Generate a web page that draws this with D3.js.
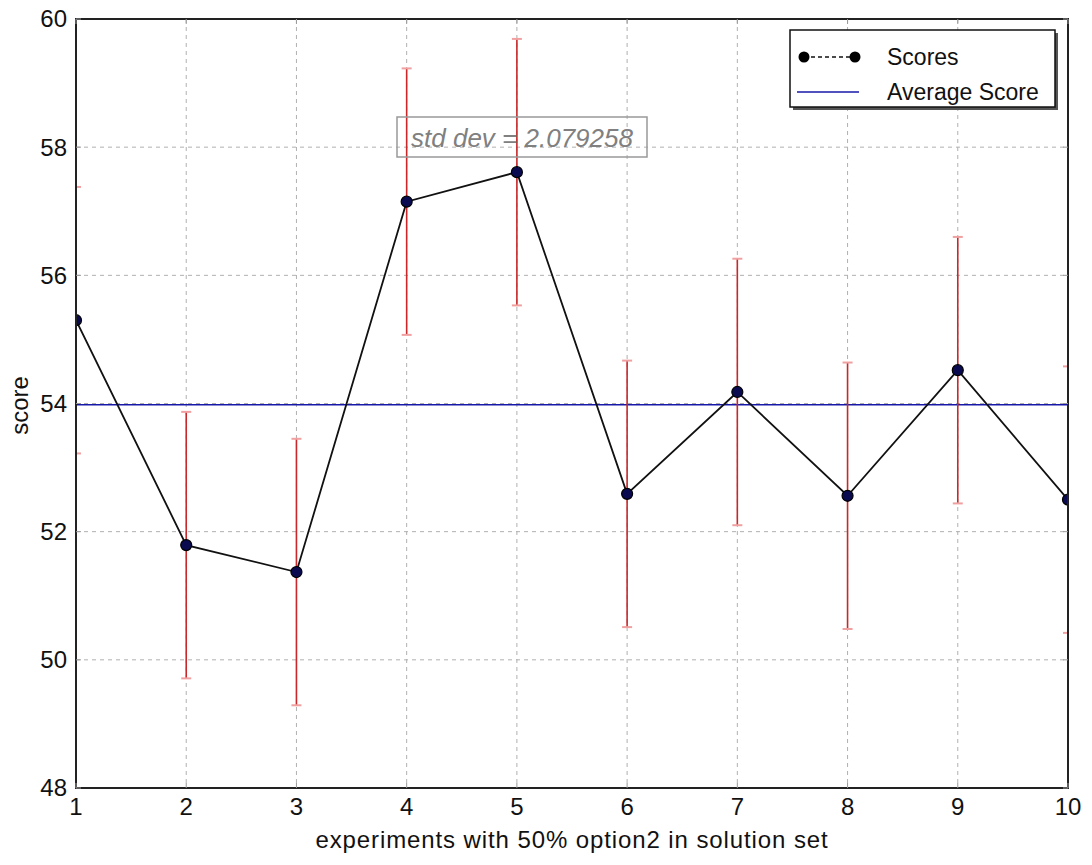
<!DOCTYPE html>
<html>
<head>
<meta charset="utf-8">
<script src="https://cdn.jsdelivr.net/npm/d3@7"></script>
<style>
  html, body { margin: 0; padding: 0; background: #fff; }
  svg { display: block; font-family: "Liberation Sans", Arial, Helvetica, sans-serif; }
</style>
</head>
<body>
<svg id="chart" width="1092" height="865"></svg>
<script>
// ---- data ----
const experiments = [1, 2, 3, 4, 5, 6, 7, 8, 9, 10];
const scores = [55.30, 51.79, 51.37, 57.15, 57.61, 52.59, 54.18, 52.56, 54.52, 52.50];
const stdDev = 2.079258;
const averageScore = 53.98;
const xTicks = [1, 2, 3, 4, 5, 6, 7, 8, 9, 10];
const yTicks = [48, 50, 52, 54, 56, 58, 60];
const xLabel = "experiments with 50% option2 in solution set";
const yLabel = "score";
const legendLabels = ["Scores", "Average Score"];
const annotation = "std dev = 2.079258";

// ---- layout ----
const svg = d3.select("#chart");
const m = { left: 76, right: 1068, top: 19, bottom: 788 };
const x = d3.scaleLinear().domain([1, 10]).range([m.left, m.right]);
const y = d3.scaleLinear().domain([48, 60]).range([m.bottom, m.top]);

svg.append("defs").append("clipPath").attr("id", "plotclip")
  .append("rect").attr("x", m.left).attr("y", m.top)
  .attr("width", m.right - m.left).attr("height", m.bottom - m.top);

// grid
const grid = svg.append("g");
grid.selectAll("line.vg").data(xTicks).enter().append("line")
  .attr("x1", d => x(d)).attr("x2", d => x(d))
  .attr("y1", m.top).attr("y2", m.bottom)
  .attr("stroke", "#b0b0b0").attr("stroke-width", 1).attr("stroke-dasharray", "4,4");
grid.selectAll("line.hg").data(yTicks).enter().append("line")
  .attr("y1", d => y(d)).attr("y2", d => y(d))
  .attr("x1", m.left).attr("x2", m.right)
  .attr("stroke", "#b0b0b0").attr("stroke-width", 1).attr("stroke-dasharray", "4,4");

const plot = svg.append("g").attr("clip-path", "url(#plotclip)");

// average line
plot.append("line")
  .attr("x1", m.left).attr("x2", m.right)
  .attr("y1", y(averageScore)).attr("y2", y(averageScore))
  .attr("stroke", "#1818a8").attr("stroke-width", 1.6);

// error bars
const data = experiments.map((e, i) => ({ e, s: scores[i] }));
const eb = plot.append("g");
eb.selectAll("line.bar").data(data).enter().append("line")
  .attr("x1", d => x(d.e)).attr("x2", d => x(d.e))
  .attr("y1", d => y(d.s - stdDev)).attr("y2", d => y(d.s + stdDev))
  .attr("stroke", "#c8282a").attr("stroke-width", 1.6);
["lo", "hi"].forEach(k => {
  eb.selectAll("line.cap" + k).data(data).enter().append("line")
    .attr("x1", d => x(d.e) - 5).attr("x2", d => x(d.e) + 5)
    .attr("y1", d => y(k === "lo" ? d.s - stdDev : d.s + stdDev))
    .attr("y2", d => y(k === "lo" ? d.s - stdDev : d.s + stdDev))
    .attr("stroke", "#f0a0a0").attr("stroke-width", 2);
});

// score line
plot.append("path").datum(data)
  .attr("d", d3.line().x(d => x(d.e)).y(d => y(d.s)))
  .attr("fill", "none").attr("stroke", "#111").attr("stroke-width", 1.8);

plot.selectAll("circle.pt").data(data).enter().append("circle")
  .attr("cx", d => x(d.e)).attr("cy", d => y(d.s)).attr("r", 5.5)
  .attr("fill", "#0a0a50").attr("stroke", "#000").attr("stroke-width", 1.2);

// frame
svg.append("rect").attr("x", m.left).attr("y", m.top)
  .attr("width", m.right - m.left).attr("height", m.bottom - m.top)
  .attr("fill", "none").attr("stroke", "#222").attr("stroke-width", 2);

// inward small ticks
const tk = svg.append("g").attr("stroke", "#999").attr("stroke-width", 1);
xTicks.forEach(t => {
  tk.append("line").attr("x1", x(t)).attr("x2", x(t)).attr("y1", m.bottom).attr("y2", m.bottom - 5);
  tk.append("line").attr("x1", x(t)).attr("x2", x(t)).attr("y1", m.top).attr("y2", m.top + 5);
});
yTicks.forEach(t => {
  tk.append("line").attr("x1", m.left).attr("x2", m.left + 5).attr("y1", y(t)).attr("y2", y(t));
  tk.append("line").attr("x1", m.right).attr("x2", m.right - 5).attr("y1", y(t)).attr("y2", y(t));
});

// tick labels
svg.append("g").selectAll("text").data(yTicks).enter().append("text")
  .attr("x", m.left - 9).attr("y", d => y(d)).attr("dy", "0.35em")
  .attr("text-anchor", "end").attr("font-size", 24).attr("fill", "#111")
  .text(d => d);
svg.append("g").selectAll("text").data(xTicks).enter().append("text")
  .attr("x", d => x(d)).attr("y", m.bottom + 27)
  .attr("text-anchor", "middle").attr("font-size", 24).attr("fill", "#111")
  .text(d => d);

// axis labels
svg.append("text").attr("x", 572).attr("y", 848)
  .attr("text-anchor", "middle").attr("font-size", 24).attr("letter-spacing", 0.9)
  .attr("fill", "#111").text(xLabel);
svg.append("text").attr("transform", `translate(28,${y(54) + 2}) rotate(-90)`)
  .attr("text-anchor", "middle").attr("font-size", 24).attr("fill", "#111").text(yLabel);

// annotation box
const ann = svg.append("g");
ann.append("rect").attr("x", 397).attr("y", 117).attr("width", 250).attr("height", 40)
  .attr("fill", "none").attr("stroke", "#999").attr("stroke-width", 1.5);
ann.append("text").attr("x", 522).attr("y", 138).attr("dy", "0.35em")
  .attr("text-anchor", "middle").attr("font-size", 26).attr("font-style", "italic")
  .attr("fill", "#808080").text(annotation);

// legend
const lg = svg.append("g");
lg.append("rect").attr("x", 793).attr("y", 33).attr("width", 265).attr("height", 77).attr("fill", "#555");
lg.append("rect").attr("x", 790).attr("y", 30).attr("width", 265).attr("height", 77)
  .attr("fill", "#fff").attr("stroke", "#111").attr("stroke-width", 1.5);
lg.append("line").attr("x1", 804).attr("x2", 855).attr("y1", 57).attr("y2", 57)
  .attr("stroke", "#111").attr("stroke-width", 1.5).attr("stroke-dasharray", "4,3");
[804, 855].forEach(cx => lg.append("circle").attr("cx", cx).attr("cy", 57).attr("r", 5.5).attr("fill", "#000"));
lg.append("line").attr("x1", 797).attr("x2", 859).attr("y1", 92).attr("y2", 92)
  .attr("stroke", "#1818a8").attr("stroke-width", 1.6);
lg.selectAll("text.lt").data(legendLabels).enter().append("text")
  .attr("x", 887).attr("y", (d, i) => 57 + i * 35).attr("dy", "0.35em")
  .attr("font-size", 23).attr("fill", "#111").text(d => d);
</script>
</body>
</html>
